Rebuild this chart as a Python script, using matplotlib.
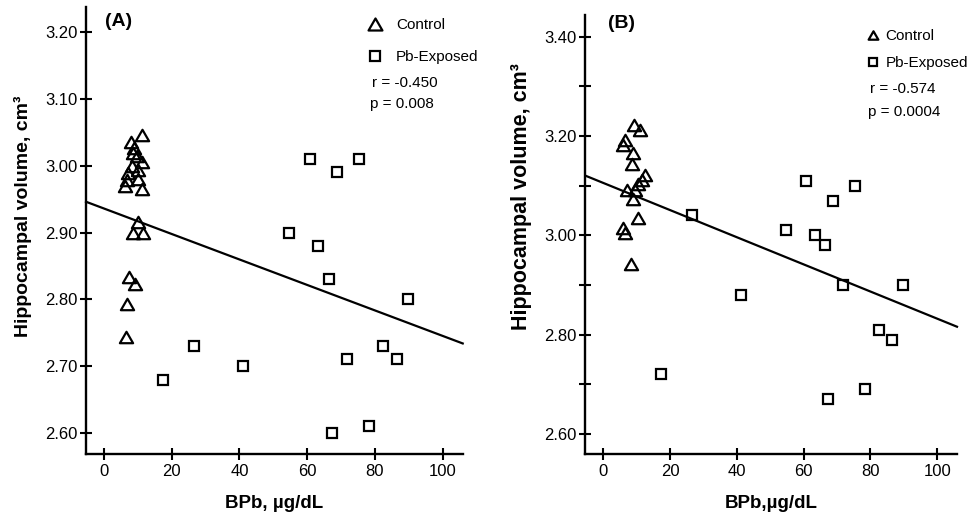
import matplotlib
matplotlib.use("Agg")
import matplotlib.pyplot as plt
import numpy as np
from matplotlib.path import Path

# ---------------- data ----------------
pb_x = [17.3, 26.7, 41.1, 54.7, 60.8, 63.3, 66.5, 67.2, 68.7, 71.7, 75.4, 78.3, 82.5, 86.4, 89.7]
pb_A_y = [2.68, 2.73, 2.70, 2.90, 3.01, 2.88, 2.83, 2.60, 2.99, 2.71, 3.01, 2.61, 2.73, 2.71, 2.80]
pb_B_y = [2.72, 3.04, 2.88, 3.01, 3.11, 3.00, 2.98, 2.67, 3.07, 2.90, 3.10, 2.69, 2.81, 2.79, 2.90]

ctrl_A_x = [11.1, 8.0, 9.0, 8.7, 9.6, 11.1, 8.2, 9.9, 7.2, 6.7, 10.1, 6.2, 11.3, 9.9, 8.7, 11.6, 7.4, 9.3, 6.7, 6.4]
ctrl_A_y = [3.046, 3.035, 3.026, 3.019, 3.014, 3.006, 2.999, 2.994, 2.989, 2.979, 2.980, 2.969, 2.965,
            2.916, 2.899, 2.899, 2.834, 2.823, 2.793, 2.744]

ctrl_B_x = [9.1, 11.0, 6.5, 6.0, 9.0, 8.5, 12.5, 11.5, 10.5, 7.0, 9.5, 8.8, 10.3, 6.0, 6.5, 8.2]
ctrl_B_y = [3.222, 3.213, 3.192, 3.181, 3.165, 3.143, 3.121, 3.111, 3.103, 3.092, 3.092, 3.074,
            3.034, 3.014, 3.004, 2.943]

line_x = [-5.3, 105.9]
line_A_y = [2.946, 2.734]
line_B_y = [3.120, 2.816]

stats_A = ["r = -0.450", "p = 0.008"]
stats_B = ["r = -0.574", "p = 0.0004"]
legend_labels = ["Control", "Pb-Exposed"]
xticks = [0, 20, 40, 60, 80, 100]
yticks_A = [2.60, 2.70, 2.80, 2.90, 3.00, 3.10, 3.20]
yticks_B = [2.60, 2.70, 2.80, 2.90, 3.00, 3.10, 3.20, 3.30, 3.40]

# ---------------- style ----------------
plt.rcParams['font.family'] = ['Liberation Sans', 'DejaVu Sans']
tri = Path([(-0.5, -0.433), (0.5, -0.433), (0.0, 0.433), (-0.5, -0.433)],
           [Path.MOVETO, Path.LINETO, Path.LINETO, Path.CLOSEPOLY])

W, H = 975, 521
fig = plt.figure(figsize=(W / 100, H / 100), dpi=100)


def fx(px):
    return px / W


def fy(py):
    return 1 - py / H


axA = fig.add_axes([fx(86), fy(454), fx(463) - fx(86), fy(7) - fy(454)])
axB = fig.add_axes([fx(585), fy(454), fx(957) - fx(585), fy(15) - fy(454)])

mew = 1.6


def style(ax, xlim, ylim, yticks, ylabels):
    ax.set_xlim(*xlim)
    ax.set_ylim(*ylim)
    for s in ['top', 'right']:
        ax.spines[s].set_visible(False)
    for s in ['left', 'bottom']:
        ax.spines[s].set_linewidth(1.7)
    ax.set_xticks(xticks)
    ax.set_xticklabels([str(t) for t in xticks])
    ax.set_yticks(yticks)
    ax.set_yticklabels(ylabels)
    ax.tick_params(direction='inout', length=8, width=1.5, labelsize=12, colors='black')
    ax.tick_params(axis='x', pad=3)
    ax.tick_params(axis='y', pad=2)


style(axA, (-5.31, 105.98), (2.5686, 3.2374), yticks_A, ["%.2f" % v for v in yticks_A])
style(axB, (-5.48, 105.9), (2.5597, 3.4437), yticks_B,
      ["%.2f" % v if i % 2 == 0 else "" for i, v in enumerate(yticks_B)])

for ax, cx, cy, py, ly in [(axA, ctrl_A_x, ctrl_A_y, pb_A_y, line_A_y),
                           (axB, ctrl_B_x, ctrl_B_y, pb_B_y, line_B_y)]:
    ax.plot(line_x, ly, color='black', lw=1.6, zorder=2, clip_on=False)
    ax.plot(cx, cy, linestyle='none', marker=tri, ms=9.5, mfc='none', mec='black', mew=mew, zorder=3)
    ax.plot(pb_x, py, linestyle='none', marker='s', ms=7.0, mfc='none', mec='black', mew=mew, zorder=3)

# axis labels
axA.set_xlabel("BPb, µg/dL", fontsize=13.5, fontweight='bold')
axA.xaxis.set_label_coords(0.5, (454 - 495) / 447)
axB.set_xlabel("BPb,µg/dL", fontsize=13.5, fontweight='bold')
axB.xaxis.set_label_coords(0.5, (454 - 495) / 439)
axA.set_ylabel("Hippocampal volume, cm³", fontsize=14, fontweight='bold')
axA.yaxis.set_label_coords((32 - 86) / 377, 1 - (216 - 7) / 447)
axB.set_ylabel("Hippocampal volume, cm³", fontsize=15.5, fontweight='bold')
axB.yaxis.set_label_coords((532 - 585) / 372, 1 - (197 - 15) / 439)

# panel letters
fig.text(fx(105), fy(22), "(A)", fontsize=14, fontweight='bold', ha='left', va='center')
fig.text(fx(608), fy(24), "(B)", fontsize=14, fontweight='bold', ha='left', va='center')

# legends
hA = [plt.Line2D([], [], ls='none', marker=tri, ms=10, mfc='none', mec='black', mew=mew),
      plt.Line2D([], [], ls='none', marker='s', ms=7.5, mfc='none', mec='black', mew=mew)]
legA = axA.legend(hA, legend_labels, loc='upper left', bbox_to_anchor=(fx(367), fy(18)),
                  bbox_transform=fig.transFigure, frameon=False, fontsize=11,
                  handlelength=1.0, handletextpad=0.9, labelspacing=1.2,
                  borderpad=0, borderaxespad=0, numpoints=1)
hB = [plt.Line2D([], [], ls='none', marker=tri, ms=7, mfc='none', mec='black', mew=mew),
      plt.Line2D([], [], ls='none', marker='s', ms=5.5, mfc='none', mec='black', mew=mew)]
legB = axB.legend(hB, legend_labels, loc='upper left', bbox_to_anchor=(fx(867), fy(29)),
                  bbox_transform=fig.transFigure, frameon=False, fontsize=11,
                  handlelength=0.8, handletextpad=0.4, labelspacing=0.88,
                  borderpad=0, borderaxespad=0, numpoints=1)

fig.text(fx(372), fy(83), stats_A[0], fontsize=11, ha='left', va='center')
fig.text(fx(370), fy(104), stats_A[1], fontsize=11, ha='left', va='center')
fig.text(fx(870), fy(89), stats_B[0], fontsize=11, ha='left', va='center')
fig.text(fx(868), fy(111.5), stats_B[1], fontsize=11, ha='left', va='center')

fig.savefig("out.png", dpi=100)
